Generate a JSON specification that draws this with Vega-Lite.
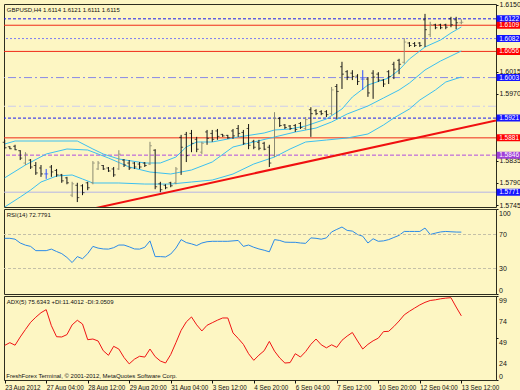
{
"$schema": "https://vega.github.io/schema/vega-lite/v6.json",
"background": "#fdf6c3",
"padding": {"left": 2, "top": 0, "right": 0, "bottom": 0},
"spacing": 2,
"bounds": "flush",
"config": {
  "view": {"fill": "#fdf6c3", "stroke": "#2d2d1e", "strokeWidth": 1},
  "font": "Liberation Sans",
  "axis": {"labelFont": "Liberation Sans", "labelFontSize": 7, "labelColor": "#111111", "domain": false, "grid": false, "tickSize": 2, "tickColor": "#111111", "labelPadding": 1, "title": null, "labelOverlap": false}
},
"datasets": {
  "bars": [
    {"i":0,"o":1.5872,"h":1.5877,"l":1.5858,"c":1.5861},
    {"i":1,"o":1.5863,"h":1.5864,"l":1.5858,"c":1.5859},
    {"i":2,"o":1.5864,"h":1.5867,"l":1.5856,"c":1.5857},
    {"i":3,"o":1.5855,"h":1.5856,"l":1.5836,"c":1.5840},
    {"i":4,"o":1.5830,"h":1.5852,"l":1.5826,"c":1.5848},
    {"i":5,"o":1.5836,"h":1.5838,"l":1.5818,"c":1.5822},
    {"i":6,"o":1.5825,"h":1.5832,"l":1.5806,"c":1.5810},
    {"i":7,"o":1.5820,"h":1.5826,"l":1.5802,"c":1.5808},
    {"i":8,"o":1.5808,"h":1.5818,"l":1.5798,"c":1.5808},
    {"i":9,"o":1.5822,"h":1.5826,"l":1.5802,"c":1.5812},
    {"i":10,"o":1.5815,"h":1.5818,"l":1.5802,"c":1.5806},
    {"i":11,"o":1.5806,"h":1.5808,"l":1.5790,"c":1.5794},
    {"i":12,"o":1.5800,"h":1.5802,"l":1.5787,"c":1.5790},
    {"i":13,"o":1.5765,"h":1.5792,"l":1.5761,"c":1.5788},
    {"i":14,"o":1.5785,"h":1.5790,"l":1.5751,"c":1.5760},
    {"i":15,"o":1.5784,"h":1.5787,"l":1.5765,"c":1.5770},
    {"i":16,"o":1.5790,"h":1.5792,"l":1.5775,"c":1.5780},
    {"i":17,"o":1.5790,"h":1.5834,"l":1.5787,"c":1.5830},
    {"i":18,"o":1.5818,"h":1.5834,"l":1.5816,"c":1.5830},
    {"i":19,"o":1.5825,"h":1.5826,"l":1.5816,"c":1.5818},
    {"i":20,"o":1.5820,"h":1.5822,"l":1.5812,"c":1.5814},
    {"i":21,"o":1.5818,"h":1.5822,"l":1.5802,"c":1.5806},
    {"i":22,"o":1.5818,"h":1.5856,"l":1.5816,"c":1.5848},
    {"i":23,"o":1.5836,"h":1.5838,"l":1.5822,"c":1.5826},
    {"i":24,"o":1.5830,"h":1.5836,"l":1.5816,"c":1.5820},
    {"i":25,"o":1.5830,"h":1.5832,"l":1.5818,"c":1.5822},
    {"i":26,"o":1.5828,"h":1.5832,"l":1.5818,"c":1.5822},
    {"i":27,"o":1.5830,"h":1.5832,"l":1.5822,"c":1.5825},
    {"i":28,"o":1.5828,"h":1.5873,"l":1.5826,"c":1.5865},
    {"i":29,"o":1.5856,"h":1.5858,"l":1.5777,"c":1.5782},
    {"i":30,"o":1.5788,"h":1.5792,"l":1.5771,"c":1.5776},
    {"i":31,"o":1.5785,"h":1.5787,"l":1.5777,"c":1.5780},
    {"i":32,"o":1.5790,"h":1.5792,"l":1.5781,"c":1.5784},
    {"i":33,"o":1.5790,"h":1.5822,"l":1.5787,"c":1.5818},
    {"i":34,"o":1.5882,"h":1.5887,"l":1.5806,"c":1.5862},
    {"i":35,"o":1.5888,"h":1.5893,"l":1.5832,"c":1.5845},
    {"i":36,"o":1.5890,"h":1.5897,"l":1.5852,"c":1.5870},
    {"i":37,"o":1.5878,"h":1.5883,"l":1.5852,"c":1.5858},
    {"i":38,"o":1.5852,"h":1.5873,"l":1.5848,"c":1.5870},
    {"i":39,"o":1.5893,"h":1.5897,"l":1.5867,"c":1.5880},
    {"i":40,"o":1.5890,"h":1.5897,"l":1.5873,"c":1.5878},
    {"i":41,"o":1.5895,"h":1.5899,"l":1.5877,"c":1.5884},
    {"i":42,"o":1.5888,"h":1.5889,"l":1.5883,"c":1.5885},
    {"i":43,"o":1.5886,"h":1.5887,"l":1.5879,"c":1.5881},
    {"i":44,"o":1.5895,"h":1.5899,"l":1.5879,"c":1.5885},
    {"i":45,"o":1.5900,"h":1.5907,"l":1.5883,"c":1.5890},
    {"i":46,"o":1.5892,"h":1.5897,"l":1.5867,"c":1.5870},
    {"i":47,"o":1.5900,"h":1.5909,"l":1.5858,"c":1.5866},
    {"i":48,"o":1.5874,"h":1.5877,"l":1.5858,"c":1.5862},
    {"i":49,"o":1.5872,"h":1.5877,"l":1.5856,"c":1.5860},
    {"i":50,"o":1.5870,"h":1.5873,"l":1.5856,"c":1.5858},
    {"i":51,"o":1.5862,"h":1.5867,"l":1.5822,"c":1.5830},
    {"i":52,"o":1.5845,"h":1.5933,"l":1.5842,"c":1.5920},
    {"i":53,"o":1.5920,"h":1.5923,"l":1.5903,"c":1.5906},
    {"i":54,"o":1.5907,"h":1.5909,"l":1.5899,"c":1.5902},
    {"i":55,"o":1.5905,"h":1.5907,"l":1.5897,"c":1.5900},
    {"i":56,"o":1.5906,"h":1.5909,"l":1.5893,"c":1.5898},
    {"i":57,"o":1.5910,"h":1.5913,"l":1.5899,"c":1.5902},
    {"i":58,"o":1.5900,"h":1.5923,"l":1.5897,"c":1.5918},
    {"i":59,"o":1.5938,"h":1.5943,"l":1.5883,"c":1.5930},
    {"i":60,"o":1.5936,"h":1.5939,"l":1.5927,"c":1.5930},
    {"i":61,"o":1.5934,"h":1.5937,"l":1.5927,"c":1.5930},
    {"i":62,"o":1.5934,"h":1.5937,"l":1.5923,"c":1.5928},
    {"i":63,"o":1.5930,"h":1.5984,"l":1.5927,"c":1.5978},
    {"i":64,"o":1.5985,"h":1.5990,"l":1.5919,"c":1.5975},
    {"i":65,"o":1.6025,"h":1.6035,"l":1.5980,"c":1.6010},
    {"i":66,"o":1.6015,"h":1.6018,"l":1.5998,"c":1.6004},
    {"i":67,"o":1.6012,"h":1.6018,"l":1.5998,"c":1.6005},
    {"i":68,"o":1.6006,"h":1.6010,"l":1.5988,"c":1.5995},
    {"i":69,"o":1.6000,"h":1.6018,"l":1.5978,"c":1.6000},
    {"i":70,"o":1.6000,"h":1.6004,"l":1.5964,"c":1.5972},
    {"i":71,"o":1.6012,"h":1.6018,"l":1.5960,"c":1.6004},
    {"i":72,"o":1.6010,"h":1.6014,"l":1.5994,"c":1.5998},
    {"i":73,"o":1.5998,"h":1.6000,"l":1.5984,"c":1.5990},
    {"i":74,"o":1.6015,"h":1.6018,"l":1.5990,"c":1.6005},
    {"i":75,"o":1.6030,"h":1.6035,"l":1.6000,"c":1.6020},
    {"i":76,"o":1.6038,"h":1.6041,"l":1.6010,"c":1.6030},
    {"i":77,"o":1.6034,"h":1.6083,"l":1.6031,"c":1.6075},
    {"i":78,"o":1.6073,"h":1.6075,"l":1.6065,"c":1.6068},
    {"i":79,"o":1.6072,"h":1.6075,"l":1.6065,"c":1.6068},
    {"i":80,"o":1.6073,"h":1.6075,"l":1.6065,"c":1.6068},
    {"i":81,"o":1.6120,"h":1.6132,"l":1.6065,"c":1.6100},
    {"i":82,"o":1.6090,"h":1.6116,"l":1.6085,"c":1.6110},
    {"i":83,"o":1.6110,"h":1.6112,"l":1.6101,"c":1.6104},
    {"i":84,"o":1.6110,"h":1.6112,"l":1.6101,"c":1.6104},
    {"i":85,"o":1.6110,"h":1.6112,"l":1.6101,"c":1.6105},
    {"i":86,"o":1.6122,"h":1.6126,"l":1.6105,"c":1.6110},
    {"i":87,"o":1.6120,"h":1.6126,"l":1.6101,"c":1.6114},
    {"i":88,"o":1.6114,"h":1.6121,"l":1.6111,"c":1.6115}
  ],
  "bands": [
    {"i":0,"band":"upper","p":1.58685},{"i":2,"band":"upper","p":1.58746},{"i":14,"band":"upper","p":1.58746},{"i":17,"band":"upper","p":1.58584},{"i":19,"band":"upper","p":1.58483},{"i":22,"band":"upper","p":1.58382},{"i":27,"band":"upper","p":1.58301},{"i":30,"band":"upper","p":1.58301},{"i":33,"band":"upper","p":1.58422},{"i":35,"band":"upper","p":1.58625},{"i":37,"band":"upper","p":1.58726},{"i":40,"band":"upper","p":1.58726},{"i":45,"band":"upper","p":1.58827},{"i":50,"band":"upper","p":1.58908},{"i":52,"band":"upper","p":1.58969},{"i":55,"band":"upper","p":1.58989},{"i":58,"band":"upper","p":1.5905},{"i":62,"band":"upper","p":1.59192},{"i":65,"band":"upper","p":1.59394},{"i":67,"band":"upper","p":1.59637},{"i":70,"band":"upper","p":1.5988},{"i":74,"band":"upper","p":1.60022},{"i":76,"band":"upper","p":1.60184},{"i":78,"band":"upper","p":1.60407},{"i":81,"band":"upper","p":1.6065},{"i":84,"band":"upper","p":1.60791},{"i":86,"band":"upper","p":1.60933},{"i":88,"band":"upper","p":1.61055},
    {"i":0,"band":"middle","p":1.58},{"i":4,"band":"middle","p":1.5826},{"i":8,"band":"middle","p":1.58483},{"i":12,"band":"middle","p":1.58584},{"i":16,"band":"middle","p":1.58564},{"i":20,"band":"middle","p":1.58402},{"i":24,"band":"middle","p":1.5822},{"i":28,"band":"middle","p":1.58118},{"i":32,"band":"middle","p":1.58078},{"i":36,"band":"middle","p":1.58159},{"i":40,"band":"middle","p":1.58321},{"i":44,"band":"middle","p":1.58625},{"i":48,"band":"middle","p":1.58726},{"i":52,"band":"middle","p":1.58827},{"i":56,"band":"middle","p":1.58928},{"i":60,"band":"middle","p":1.59009},{"i":63,"band":"middle","p":1.59131},{"i":66,"band":"middle","p":1.59293},{"i":70,"band":"middle","p":1.59455},{"i":73,"band":"middle","p":1.59617},{"i":76,"band":"middle","p":1.59779},{"i":78,"band":"middle","p":1.5992},{"i":81,"band":"middle","p":1.60184},{"i":84,"band":"middle","p":1.60366},{"i":86,"band":"middle","p":1.60467},{"i":88,"band":"middle","p":1.60569},
    {"i":0,"band":"lower","p":1.5741},{"i":3,"band":"lower","p":1.57612},{"i":5,"band":"lower","p":1.57754},{"i":7,"band":"lower","p":1.57916},{"i":10,"band":"lower","p":1.58037},{"i":13,"band":"lower","p":1.58058},{"i":15,"band":"lower","p":1.57977},{"i":17,"band":"lower","p":1.57896},{"i":22,"band":"lower","p":1.57896},{"i":27,"band":"lower","p":1.57875},{"i":32,"band":"lower","p":1.57875},{"i":36,"band":"lower","p":1.57916},{"i":40,"band":"lower","p":1.57956},{"i":44,"band":"lower","p":1.58078},{"i":48,"band":"lower","p":1.5828},{"i":52,"band":"lower","p":1.58422},{"i":55,"band":"lower","p":1.58584},{"i":58,"band":"lower","p":1.58726},{"i":62,"band":"lower","p":1.58766},{"i":66,"band":"lower","p":1.58807},{"i":70,"band":"lower","p":1.58888},{"i":73,"band":"lower","p":1.5907},{"i":75,"band":"lower","p":1.59212},{"i":78,"band":"lower","p":1.59394},{"i":80,"band":"lower","p":1.59576},{"i":83,"band":"lower","p":1.59779},{"i":85,"band":"lower","p":1.59941},{"i":88,"band":"lower","p":1.60042}
  ],
  "levels": [
    {"p":1.6122,"kind":"pivot","label":"1.6122"},
    {"p":1.6109,"kind":"resistance","label":"1.6109"},
    {"p":1.6082,"kind":"mid","label":"1.6082"},
    {"p":1.6056,"kind":"resistance","label":"1.6056"},
    {"p":1.6003,"kind":"fib","label":"1.6003"},
    {"p":1.5945,"kind":"fib2","label":""},
    {"p":1.5921,"kind":"pivot","label":"1.5921"},
    {"p":1.5881,"kind":"resistance","label":"1.5881"},
    {"p":1.5846,"kind":"swing","label":"1.5846"},
    {"p":1.5771,"kind":"low","label":"1.5771"}
  ],
  "trend": [{"i":10,"p":1.57215},{"i":94.68,"p":1.59164}],
  "ind": [
    {"i":0,"rsi":65.5,"adx":40.8},{"i":1,"rsi":65.5,"adx":44},{"i":2,"rsi":64.5,"adx":41},{"i":3,"rsi":60,"adx":50.7},{"i":4,"rsi":57.5,"adx":59.5},{"i":5,"rsi":56,"adx":68},{"i":6,"rsi":51,"adx":74},{"i":7,"rsi":51,"adx":79.3},{"i":8,"rsi":51,"adx":82.9},{"i":9,"rsi":52.8,"adx":64},
    {"i":10,"rsi":50,"adx":51},{"i":11,"rsi":47.5,"adx":50.7},{"i":12,"rsi":43,"adx":53.5},{"i":13,"rsi":37,"adx":65},{"i":14,"rsi":44,"adx":70.4},{"i":15,"rsi":41.5,"adx":66},{"i":16,"rsi":47.5,"adx":47.5},{"i":17,"rsi":56,"adx":48.3},{"i":18,"rsi":54,"adx":46},{"i":19,"rsi":53,"adx":34.5},
    {"i":20,"rsi":52.8,"adx":29.1},{"i":21,"rsi":54.5,"adx":39.7},{"i":22,"rsi":57.6,"adx":36.5},{"i":23,"rsi":57.6,"adx":26.5},{"i":24,"rsi":55.5,"adx":19},{"i":25,"rsi":53,"adx":24.5},{"i":26,"rsi":52.8,"adx":28},{"i":27,"rsi":55,"adx":27},{"i":28,"rsi":62.5,"adx":36.5},{"i":29,"rsi":44,"adx":27.5},
    {"i":30,"rsi":44,"adx":22.4},{"i":31,"rsi":43.6,"adx":20},{"i":32,"rsi":47,"adx":30},{"i":33,"rsi":54,"adx":44},{"i":34,"rsi":64,"adx":58.5},{"i":35,"rsi":60.5,"adx":68.5},{"i":36,"rsi":59,"adx":74.3},{"i":37,"rsi":57,"adx":65},{"i":38,"rsi":60,"adx":57.8},{"i":39,"rsi":61.5,"adx":64.5},
    {"i":40,"rsi":62,"adx":67.5},{"i":41,"rsi":62,"adx":70.5},{"i":42,"rsi":62,"adx":73.1},{"i":43,"rsi":62,"adx":73.1},{"i":44,"rsi":62.5,"adx":55.5},{"i":45,"rsi":63,"adx":49},{"i":46,"rsi":56,"adx":42},{"i":47,"rsi":57.6,"adx":31},{"i":48,"rsi":55,"adx":23.2},{"i":49,"rsi":53,"adx":29.3},
    {"i":50,"rsi":51.5,"adx":34.5},{"i":51,"rsi":49.6,"adx":45.5},{"i":52,"rsi":64,"adx":34},{"i":53,"rsi":63,"adx":26},{"i":54,"rsi":61,"adx":20},{"i":55,"rsi":60.8,"adx":20.5},{"i":56,"rsi":60.8,"adx":31},{"i":57,"rsi":60,"adx":27.1},{"i":58,"rsi":59.6,"adx":33.5},{"i":59,"rsi":66,"adx":42},
    {"i":60,"rsi":65.5,"adx":48.3},{"i":61,"rsi":64.5,"adx":41.5},{"i":62,"rsi":66,"adx":37.9},{"i":63,"rsi":73,"adx":41.5},{"i":64,"rsi":76,"adx":38.5},{"i":65,"rsi":78.8,"adx":46.8},{"i":66,"rsi":74.8,"adx":51.8},{"i":67,"rsi":74,"adx":56},{"i":68,"rsi":70,"adx":46},{"i":69,"rsi":68,"adx":36.5},
    {"i":70,"rsi":60,"adx":42},{"i":71,"rsi":65,"adx":46.2},{"i":72,"rsi":62,"adx":49.3},{"i":73,"rsi":62.5,"adx":57},{"i":74,"rsi":64,"adx":57.4},{"i":75,"rsi":66.5,"adx":63},{"i":76,"rsi":69,"adx":69.5},{"i":77,"rsi":73.6,"adx":76.8},{"i":78,"rsi":73.6,"adx":81},{"i":79,"rsi":73.6,"adx":84.8},
    {"i":80,"rsi":73.6,"adx":88.5},{"i":81,"rsi":77.6,"adx":91.5},{"i":82,"rsi":70,"adx":93.7},{"i":83,"rsi":71.6,"adx":94.5},{"i":84,"rsi":73,"adx":95.7},{"i":85,"rsi":73.6,"adx":96.5},{"i":86,"rsi":73.2,"adx":97},{"i":87,"rsi":72.9,"adx":86},{"i":88,"rsi":72.8,"adx":75.6}
  ],
  "rsilevels": [{"lv":30},{"lv":70}],
  "rsiscale": [{"v":100,"t":"100"},{"v":70,"t":"70"},{"v":30,"t":"30"},{"v":0,"t":"0"}],
  "adxscale": [{"v":99,"t":"99"},{"v":74,"t":"74"},{"v":49,"t":"49"},{"v":24,"t":"24"},{"v":0,"t":"0"}]
},
"vconcat": [
  {
    "width": 492, "height": 203,
    "layer": [
      {
        "data": {"name": "levels"},
        "mark": {"type": "rule"},
        "encoding": {
          "y": {"field": "p", "type": "quantitative", "scale": {"domain": [1.5741, 1.6152], "nice": false, "zero": false},
                "axis": {"orient": "right", "values": [1.615, 1.6015, 1.597, 1.5835, 1.579, 1.5745], "format": ".4f"}},
          "stroke": {"field": "kind", "type": "nominal", "legend": null,
                     "scale": {"domain": ["pivot","resistance","mid","fib","fib2","swing","low"], "range": ["#1c1cf0","#f02a18","#7c7cf4","#8888e8","#ccccee","#b04ce0","#b4b4e8"]}},
          "strokeDash": {"field": "kind", "type": "nominal", "legend": null,
                     "scale": {"domain": ["pivot","resistance","mid","fib","fib2","swing","low"], "range": [[3,2],[1,0],[2,2],[8,3,2,3],[8,3,2,3],[4,2],[1,0]]}},
          "strokeWidth": {"field": "kind", "type": "nominal", "legend": null,
                     "scale": {"domain": ["pivot","resistance","mid","fib","fib2","swing","low"], "range": [1,1,1,1,1,1,2]}}
        }
      },
      {
        "data": {"name": "trend"},
        "mark": {"type": "line", "color": "#f01010", "strokeWidth": 2, "clip": true},
        "encoding": {
          "x": {"field": "i", "type": "quantitative", "scale": {"domain": [-0.13, 94.68], "nice": false, "zero": false}, "axis": null},
          "y": {"field": "p", "type": "quantitative"}
        }
      },
      {
        "data": {"name": "bands"},
        "mark": {"type": "line", "color": "#3cc0f0", "strokeWidth": 1, "clip": true},
        "encoding": {
          "x": {"field": "i", "type": "quantitative"},
          "y": {"field": "p", "type": "quantitative"},
          "detail": {"field": "band"}
        }
      },
      {
        "data": {"name": "bars"},
        "mark": {"type": "rule", "strokeWidth": 1},
        "encoding": {
          "x": {"field": "i", "type": "quantitative"},
          "y": {"field": "l", "type": "quantitative"},
          "y2": {"field": "h"},
          "color": {"condition": [{"test": "datum.c == datum.o", "value": "#2a4cff"}, {"test": "datum.c > datum.o", "value": "#8a8a72"}], "value": "#141414"}
        }
      },
      {
        "data": {"name": "bars"},
        "mark": {"type": "tick", "orient": "horizontal", "size": 2, "thickness": 1, "xOffset": -1},
        "encoding": {
          "x": {"field": "i", "type": "quantitative"},
          "y": {"field": "o", "type": "quantitative"},
          "color": {"condition": [{"test": "datum.c == datum.o", "value": "#2a4cff"}, {"test": "datum.c > datum.o", "value": "#8a8a72"}], "value": "#141414"}
        }
      },
      {
        "data": {"name": "bars"},
        "mark": {"type": "tick", "orient": "horizontal", "size": 2, "thickness": 1, "xOffset": 1},
        "encoding": {
          "x": {"field": "i", "type": "quantitative"},
          "y": {"field": "c", "type": "quantitative"},
          "color": {"condition": [{"test": "datum.c == datum.o", "value": "#2a4cff"}, {"test": "datum.c > datum.o", "value": "#8a8a72"}], "value": "#141414"}
        }
      },
      {
        "data": {"name": "levels"},
        "transform": [{"filter": "datum.label != ''"}],
        "mark": {"type": "rect", "height": 7},
        "encoding": {
          "x": {"datum": 94.8, "type": "quantitative"},
          "x2": {"datum": 99.6},
          "y": {"field": "p", "type": "quantitative"},
          "fill": {"field": "kind", "type": "nominal", "legend": null,
                   "scale": {"domain": ["pivot","resistance","mid","fib","swing","low"], "range": ["#1414ff","#ff0000","#1414ff","#1414ff","#a040d8","#1414ff"]}}
        }
      },
      {
        "data": {"name": "levels"},
        "transform": [{"filter": "datum.label != ''"}],
        "mark": {"type": "text", "fill": "#ffffff", "fontSize": 6.5, "font": "Liberation Sans", "align": "center", "baseline": "middle"},
        "encoding": {
          "x": {"datum": 97.2, "type": "quantitative"},
          "y": {"field": "p", "type": "quantitative"},
          "text": {"field": "label"}
        }
      },
      {
        "data": {"values": [{"caption": "GBPUSD,H4  1.6114 1.6121 1.6111 1.6115"}]},
        "mark": {"type": "text", "fill": "#111111", "fontSize": 6, "font": "Liberation Sans", "align": "left", "baseline": "middle"},
        "encoding": {
          "x": {"datum": 0.4, "type": "quantitative"},
          "y": {"datum": 1.61395, "type": "quantitative"},
          "text": {"field": "caption"}
        }
      }
    ]
  },
  {
    "width": 492, "height": 85,
    "layer": [
      {
        "data": {"name": "ind"},
        "mark": {"type": "line", "color": "#2b8be8", "strokeWidth": 1},
        "encoding": {
          "x": {"field": "i", "type": "quantitative", "scale": {"domain": [-0.13, 94.68], "nice": false, "zero": false}, "axis": null},
          "y": {"field": "rsi", "type": "quantitative", "scale": {"domain": [0, 100], "nice": false},
                "axis": {"orient": "right", "values": [0, 30, 70, 100], "labels": false}}
        }
      },
      {
        "data": {"name": "rsilevels"},
        "mark": {"type": "rule", "color": "#c4c0a8", "strokeDash": [3, 2]},
        "encoding": {
          "y": {"field": "lv", "type": "quantitative"}
        }
      },
      {
        "data": {"name": "rsiscale"},
        "transform": [{"filter": "datum.v == 100"}],
        "mark": {"type": "text", "fill": "#111111", "fontSize": 7, "font": "Liberation Sans", "align": "left", "baseline": "top", "dy": 1},
        "encoding": {
          "x": {"datum": 95.26, "type": "quantitative"},
          "y": {"field": "v", "type": "quantitative"},
          "text": {"field": "t"}
        }
      },
      {
        "data": {"name": "rsiscale"},
        "transform": [{"filter": "datum.v == 0"}],
        "mark": {"type": "text", "fill": "#111111", "fontSize": 7, "font": "Liberation Sans", "align": "left", "baseline": "bottom"},
        "encoding": {
          "x": {"datum": 95.26, "type": "quantitative"},
          "y": {"field": "v", "type": "quantitative"},
          "text": {"field": "t"}
        }
      },
      {
        "data": {"name": "rsiscale"},
        "transform": [{"filter": "datum.v > 0 && datum.v < 100"}],
        "mark": {"type": "text", "fill": "#111111", "fontSize": 7, "font": "Liberation Sans", "align": "left", "baseline": "middle"},
        "encoding": {
          "x": {"datum": 95.26, "type": "quantitative"},
          "y": {"field": "v", "type": "quantitative"},
          "text": {"field": "t"}
        }
      },
      {
        "data": {"values": [{"caption": "RSI(14) 72.7791"}]},
        "mark": {"type": "text", "fill": "#111111", "fontSize": 6, "font": "Liberation Sans", "align": "left", "baseline": "middle"},
        "encoding": {
          "x": {"datum": 0.4, "type": "quantitative"},
          "y": {"datum": 92.5, "type": "quantitative"},
          "text": {"field": "caption"}
        }
      }
    ]
  },
  {
    "width": 492, "height": 84,
    "layer": [
      {
        "data": {"name": "ind"},
        "mark": {"type": "line", "color": "#f01414", "strokeWidth": 1},
        "encoding": {
          "x": {"field": "i", "type": "quantitative", "scale": {"domain": [-0.13, 94.68], "nice": false, "zero": false},
                "axis": {"orient": "bottom", "values": [0, 8, 16, 24, 32, 40, 48, 56, 64, 72, 80, 88], "labelAlign": "left", "labelFlush": false, "labelOverlap": false, "tickSize": 3, "labelPadding": 1, "labelFontSize": 6.3,
                         "labelExpr": "['23 Aug 2012','27 Aug 04:00','28 Aug 12:00','29 Aug 20:00','31 Aug 04:00','3 Sep 12:00','4 Sep 20:00','6 Sep 04:00','7 Sep 12:00','10 Sep 20:00','12 Sep 04:00','13 Sep 12:00'][round(datum.value / 8)]"}},
          "y": {"field": "adx", "type": "quantitative", "scale": {"domain": [0, 99], "nice": false},
                "axis": {"orient": "right", "values": [0, 24, 49, 74, 99], "labels": false}}
        }
      },
      {
        "data": {"name": "adxscale"},
        "transform": [{"filter": "datum.v > 0"}],
        "mark": {"type": "text", "fill": "#111111", "fontSize": 7, "font": "Liberation Sans", "align": "left", "baseline": "top", "dy": 0.5},
        "encoding": {
          "x": {"datum": 95.26, "type": "quantitative"},
          "y": {"field": "v", "type": "quantitative"},
          "text": {"field": "t"}
        }
      },
      {
        "data": {"name": "adxscale"},
        "transform": [{"filter": "datum.v == 0"}],
        "mark": {"type": "text", "fill": "#111111", "fontSize": 7, "font": "Liberation Sans", "align": "left", "baseline": "bottom"},
        "encoding": {
          "x": {"datum": 95.26, "type": "quantitative"},
          "y": {"field": "v", "type": "quantitative"},
          "text": {"field": "t"}
        }
      },
      {
        "data": {"values": [{"caption": "ADX(5) 75.6343 +DI:11.4012 -DI:3.0509"}]},
        "mark": {"type": "text", "fill": "#111111", "fontSize": 6, "font": "Liberation Sans", "align": "left", "baseline": "middle"},
        "encoding": {
          "x": {"datum": 0.4, "type": "quantitative"},
          "y": {"datum": 92, "type": "quantitative"},
          "text": {"field": "caption"}
        }
      },
      {
        "data": {"values": [{"caption": "FreshForex Terminal, © 2001-2012, MetaQuotes Software Corp."}]},
        "mark": {"type": "text", "fill": "#111111", "fontSize": 6, "font": "Liberation Sans", "align": "left", "baseline": "middle"},
        "encoding": {
          "x": {"datum": 0.3, "type": "quantitative"},
          "y": {"datum": 4.8, "type": "quantitative"},
          "text": {"field": "caption"}
        }
      }
    ]
  }
]
}
